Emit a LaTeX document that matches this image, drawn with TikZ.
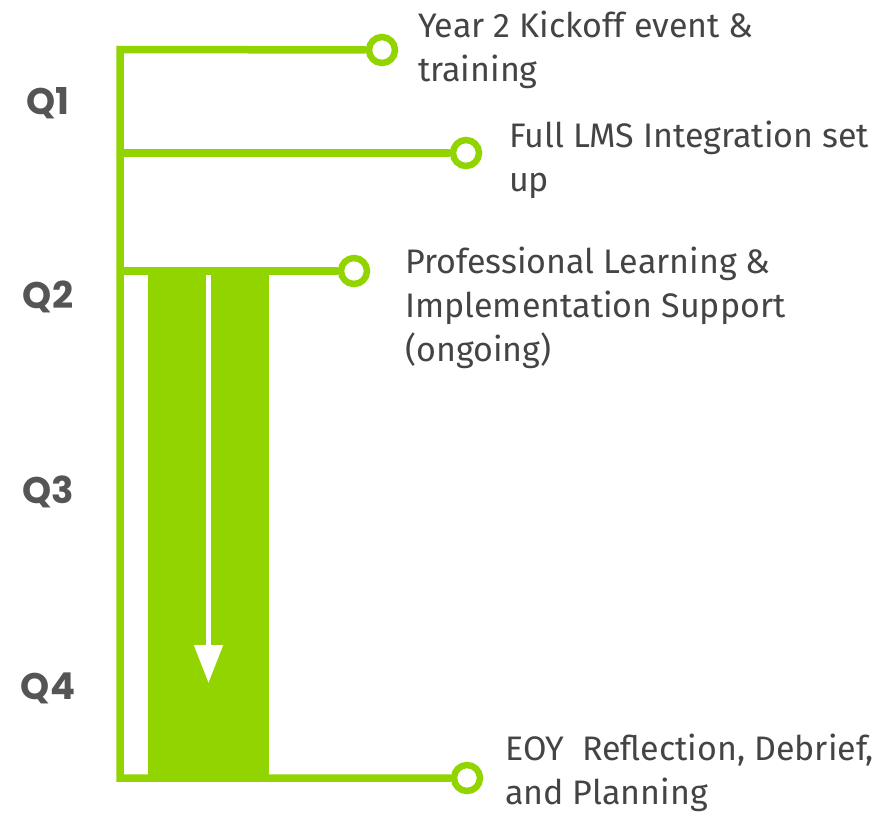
\documentclass[tikz,border=0pt]{standalone}
\usepackage{fontspec}
\setmainfont{Fira Sans}
\newfontfamily\qfont{Poppins}
\usetikzlibrary{arrows.meta}
\definecolor{limegreen}{HTML}{92D400}
\definecolor{textgrey}{HTML}{444444}
\definecolor{qgrey}{HTML}{555555}
\begin{document}
\begin{tikzpicture}[x=1pt,y=-1pt,
        track/.style={draw=limegreen,line width=7.5pt},
        milestone/.style={circle,draw=limegreen,fill=white,line width=6.5pt,minimum size=26pt,inner sep=0pt},
        quarter/.style={font=\qfont\bfseries\fontsize{37}{37}\selectfont,text=qgrey,inner sep=0pt},
        event/.style={anchor=base west,align=left,inner sep=0pt,text=textgrey,font=\fontsize{34}{44}\selectfont}]
                \useasboundingbox (0,0) rectangle (894,812);
                \fill[limegreen] (148,271) rectangle (269,778);
                \draw[white,line width=5pt,-{Triangle[width=28pt,length=38pt]}] (208.5,271) -- (208.5,683);
                \coordinate (top) at (120,49.5);
                \coordinate (s2) at (120,153);
                \coordinate (s3) at (120,271);
                \coordinate (bottom) at (120,778);
                \node[milestone] (m1) at (382,50) {};
                \node[milestone] (m2) at (466,153) {};
                \node[milestone] (m3) at (354,271) {};
                \node[milestone] (m4) at (467,778) {};
                \draw[track,line join=miter] (m1) -- (top) -- (bottom) -- (m4);
                \draw[track] (s2) -- (m2);
                \draw[track] (s3) -- (m3);
                \node[quarter] (q1) at (48,103) {Q1};
                \node[quarter] (q2) at (48,297) {Q2};
                \node[quarter] (q3) at (48,492) {Q3};
                \node[quarter] (q4) at (48,688) {Q4};
                \node[event] (e1) at (418,81) {Year 2 Kickoff event \&\\training};
                \node[event] (e2) at (509,191) {Full LMS Integration set\\up};
                \node[event] (e3) at (405,361) {Professional Learning \&\\Implementation Support\\(ongoing)};
                \node[event] (e4) at (505,804) {EOY\ \ Reflection, Debrief,\\and Planning};
        \end{tikzpicture}
\end{document}
